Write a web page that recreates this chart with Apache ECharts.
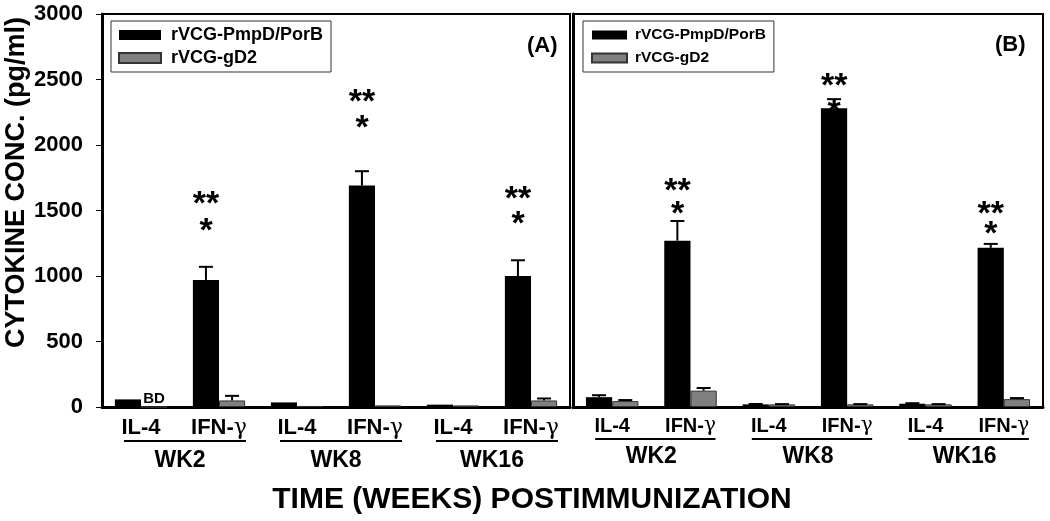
<!DOCTYPE html>
<html>
<head>
<meta charset="utf-8">
<script src="https://cdn.jsdelivr.net/npm/echarts@6/dist/echarts.min.js"></script>
<style>
html,body{margin:0;padding:0;background:#fff;}
#main{width:1050px;height:521px;}
</style>
</head>
<body>
<div id="main"></div>
<script>
// ---- data ----
const categories = ['IL-4', 'IFN-γ', 'IL-4', 'IFN-γ', 'IL-4', 'IFN-γ'];
const weeks = ['WK2', 'WK8', 'WK16'];
const seriesNames = ['rVCG-PmpD/PorB', 'rVCG-gD2'];
const yTicks = [0, 500, 1000, 1500, 2000, 2500, 3000];

const A_pmpd = [58, 970, 35, 1690, 18, 1000];
const A_pmpd_err = [0, 100, 0, 110, 0, 120];
const A_gd2 = [0, 50, 8, 12, 12, 50];
const A_gd2_err = [0, 35, 0, 0, 0, 15];

const B_pmpd = [75, 1270, 20, 2280, 25, 1215];
const B_pmpd_err = [15, 150, 3, 70, 4, 30];
const B_gd2 = [45, 125, 20, 20, 20, 60];
const B_gd2_err = [8, 20, 2, 2, 2, 8];

// significance marks: [category index, text, value]
const A_marks = [[1, '**', 1595], [1, '*', 1390], [3, '**', 2380], [3, '*', 2175], [5, '**', 1640], [5, '*', 1443]];
const B_marks = [[1, '**', 1695], [1, '*', 1520], [3, '**', 2496], [3, '*', 2300], [5, '**', 1520], [5, '*', 1366]];
const A_bd = [[0, 'BD', 62]];

// ---- chart ----
const FONT = '"Liberation Sans", Arial, sans-serif';
const chart = echarts.init(document.getElementById('main'));

const gammaRich = (size) => ({
  a: { fontSize: size, fontWeight: 'bold', fontFamily: FONT, color: '#000' },
  g: { fontSize: size, fontWeight: 'normal', fontFamily: '"DejaVu Serif", serif', color: '#000' }
});
const catFormatter = (v) => v.indexOf('γ') >= 0 ? '{a|IFN-}{g|γ}' : '{a|' + v + '}';

function barSeries(name, data, xi, color, border) {
  return {
    name: name, type: 'bar', xAxisIndex: xi, yAxisIndex: xi, data: data,
    barGap: '0%', barCategoryGap: '33%',
    itemStyle: { color: color, borderColor: border, borderWidth: border ? 1 : 0 },
    z: 2
  };
}
function errSeries(vals, errs, xi, side) {
  const data = [];
  vals.forEach((v, i) => { if (errs[i] > 0) data.push([i, v, v + errs[i]]); });
  return {
    type: 'custom', xAxisIndex: xi, yAxisIndex: xi, data: data, z: 5, silent: true,
    renderItem: function (params, api) {
      const i = api.value(0);
      const p0 = api.coord([i, api.value(1)]);
      const p1 = api.coord([i, api.value(2)]);
      const band = api.size([1, 0])[0];
      const bw = band * 0.67 / 2;
      const cx = p0[0] + side * bw / 2;
      const st = { stroke: '#000', lineWidth: 2 };
      return {
        type: 'group', children: [
          { type: 'line', shape: { x1: cx, y1: p0[1], x2: cx, y2: p1[1] }, style: st },
          { type: 'line', shape: { x1: cx - 7, y1: p1[1], x2: cx + 7, y2: p1[1] }, style: st }
        ]
      };
    }
  };
}
function markSeries(marks, xi, side, size, dy) {
  return {
    type: 'scatter', xAxisIndex: xi, yAxisIndex: xi, symbolSize: 0, silent: true, z: 6,
    data: marks.map(m => ({ value: [m[0], m[2]], name: m[1] })),
    itemStyle: { color: '#000', opacity: 1 },
    label: {
      show: true, position: 'inside', formatter: (p) => p.name,
      fontSize: size, fontWeight: 'bold', fontFamily: FONT, color: '#000',
      textBorderWidth: 0, opacity: 1,
      offset: [side * 13, dy]
    }
  };
}

const option = {
  animation: false,
  backgroundColor: '#fff',
  title: [
    { text: 'TIME (WEEKS) POSTIMMUNIZATION', left: 527, textAlign: 'center', top: 480,
      textStyle: { fontSize: 30, fontWeight: 'bold', fontFamily: FONT, color: '#000' } },
    { text: '(A)', left: 522, top: 30,
      textStyle: { fontSize: 22, fontWeight: 'bold', fontFamily: FONT, color: '#000' } },
    { text: '(B)', left: 990, top: 29,
      textStyle: { fontSize: 22, fontWeight: 'bold', fontFamily: FONT, color: '#000' } }
  ],
  legend: [
    { data: seriesNames, orient: 'vertical', left: 111, top: 21,
      itemWidth: 42, itemHeight: 10, itemGap: 5, padding: [5, 8, 5, 7],
      borderColor: '#333', borderWidth: 1, icon: 'rect', selectedMode: false,
      textStyle: { fontSize: 18, fontWeight: 'bold', fontFamily: FONT, color: '#000', padding: [0, 0, 0, 5] } },
    { data: seriesNames, orient: 'vertical', left: 583, top: 21,
      itemWidth: 35, itemHeight: 9, itemGap: 7, padding: [6, 8, 6, 8],
      borderColor: '#333', borderWidth: 1, icon: 'rect', selectedMode: false,
      textStyle: { fontSize: 15.5, fontWeight: 'bold', fontFamily: FONT, color: '#000', padding: [0, 0, 0, 3] } }
  ],
  grid: [
    { left: 102, right: 480, top: 14, bottom: 114, show: true, borderColor: '#000', borderWidth: 2, backgroundColor: 'transparent' },
    { left: 573, right: 7, top: 14, bottom: 114, show: true, borderColor: '#000', borderWidth: 2, backgroundColor: 'transparent' }
  ],
  xAxis: [
    { type: 'category', gridIndex: 0, data: categories,
      axisLine: { lineStyle: { color: '#000', width: 3 } }, axisTick: { show: false },
      axisLabel: { interval: 0, margin: 10, formatter: catFormatter, rich: gammaRich(22) } },
    { type: 'category', gridIndex: 1, data: categories,
      axisLine: { lineStyle: { color: '#000', width: 3 } }, axisTick: { show: false },
      axisLabel: { interval: 0, margin: 9, formatter: catFormatter, rich: gammaRich(20) } },
    { type: 'category', gridIndex: 0, data: weeks, position: 'bottom',
      axisLine: { show: false }, axisTick: { show: false },
      axisLabel: { interval: 0, margin: 42, fontSize: 23, fontWeight: 'bold', fontFamily: FONT, color: '#000' } },
    { type: 'category', gridIndex: 1, data: weeks, position: 'bottom',
      axisLine: { show: false }, axisTick: { show: false },
      axisLabel: { interval: 0, margin: 38, fontSize: 23, fontWeight: 'bold', fontFamily: FONT, color: '#000' } }
  ],
  yAxis: [
    { type: 'value', gridIndex: 0, min: 0, max: 3000, interval: 500,
      name: 'CYTOKINE CONC. (pg/ml)', nameLocation: 'middle', nameGap: 70, nameRotate: 90,
      nameTextStyle: { fontSize: 27, fontWeight: 'bold', fontFamily: FONT, color: '#000', padding: [0, 0, 0, 56] },
      axisLine: { show: true, lineStyle: { color: '#000', width: 3 } },
      axisTick: { show: true, length: 6, lineStyle: { color: '#000', width: 1 } },
      splitLine: { show: false },
      axisLabel: { margin: 19, fontSize: 22, fontWeight: 'bold', fontFamily: FONT, color: '#000',
        formatter: (v) => yTicks.indexOf(v) >= 0 ? String(v) : '' } },
    { type: 'value', gridIndex: 1, min: 0, max: 3000, interval: 500,
      axisLine: { show: true, lineStyle: { color: '#000', width: 3 } },
      axisTick: { show: false }, splitLine: { show: false }, axisLabel: { show: false } }
  ],
  series: [
    barSeries(seriesNames[0], A_pmpd, 0, '#000', null),
    barSeries(seriesNames[1], A_gd2, 0, '#808080', '#333'),
    barSeries(seriesNames[0], B_pmpd, 1, '#000', null),
    barSeries(seriesNames[1], B_gd2, 1, '#808080', '#333'),
    errSeries(A_pmpd, A_pmpd_err, 0, -1),
    errSeries(A_gd2, A_gd2_err, 0, 1),
    errSeries(B_pmpd, B_pmpd_err, 1, -1),
    errSeries(B_gd2, B_gd2_err, 1, 1),
    markSeries(A_marks, 0, -1, 34, 7),
    markSeries(B_marks, 1, -1, 34, 7),
    markSeries(A_bd, 0, 1, 15, 0)
  ]
};
chart.setOption(option);

// underlines beneath each pair of labels, placed from the category axes
const lines = [];
[[0, -17, 27, 441], [1, -17, 25, 439]].forEach(([xi, l, r, y]) => {
  for (let w = 0; w < weeks.length; w++) {
    const x1 = chart.convertToPixel({ xAxisIndex: xi }, w * 2) + l;
    const x2 = chart.convertToPixel({ xAxisIndex: xi }, w * 2 + 1) + r;
    lines.push({ type: 'line', shape: { x1: x1, y1: y, x2: x2, y2: y }, style: { stroke: '#000', lineWidth: 2 } });
  }
});
chart.setOption({ graphic: lines });
</script>
</body>
</html>
